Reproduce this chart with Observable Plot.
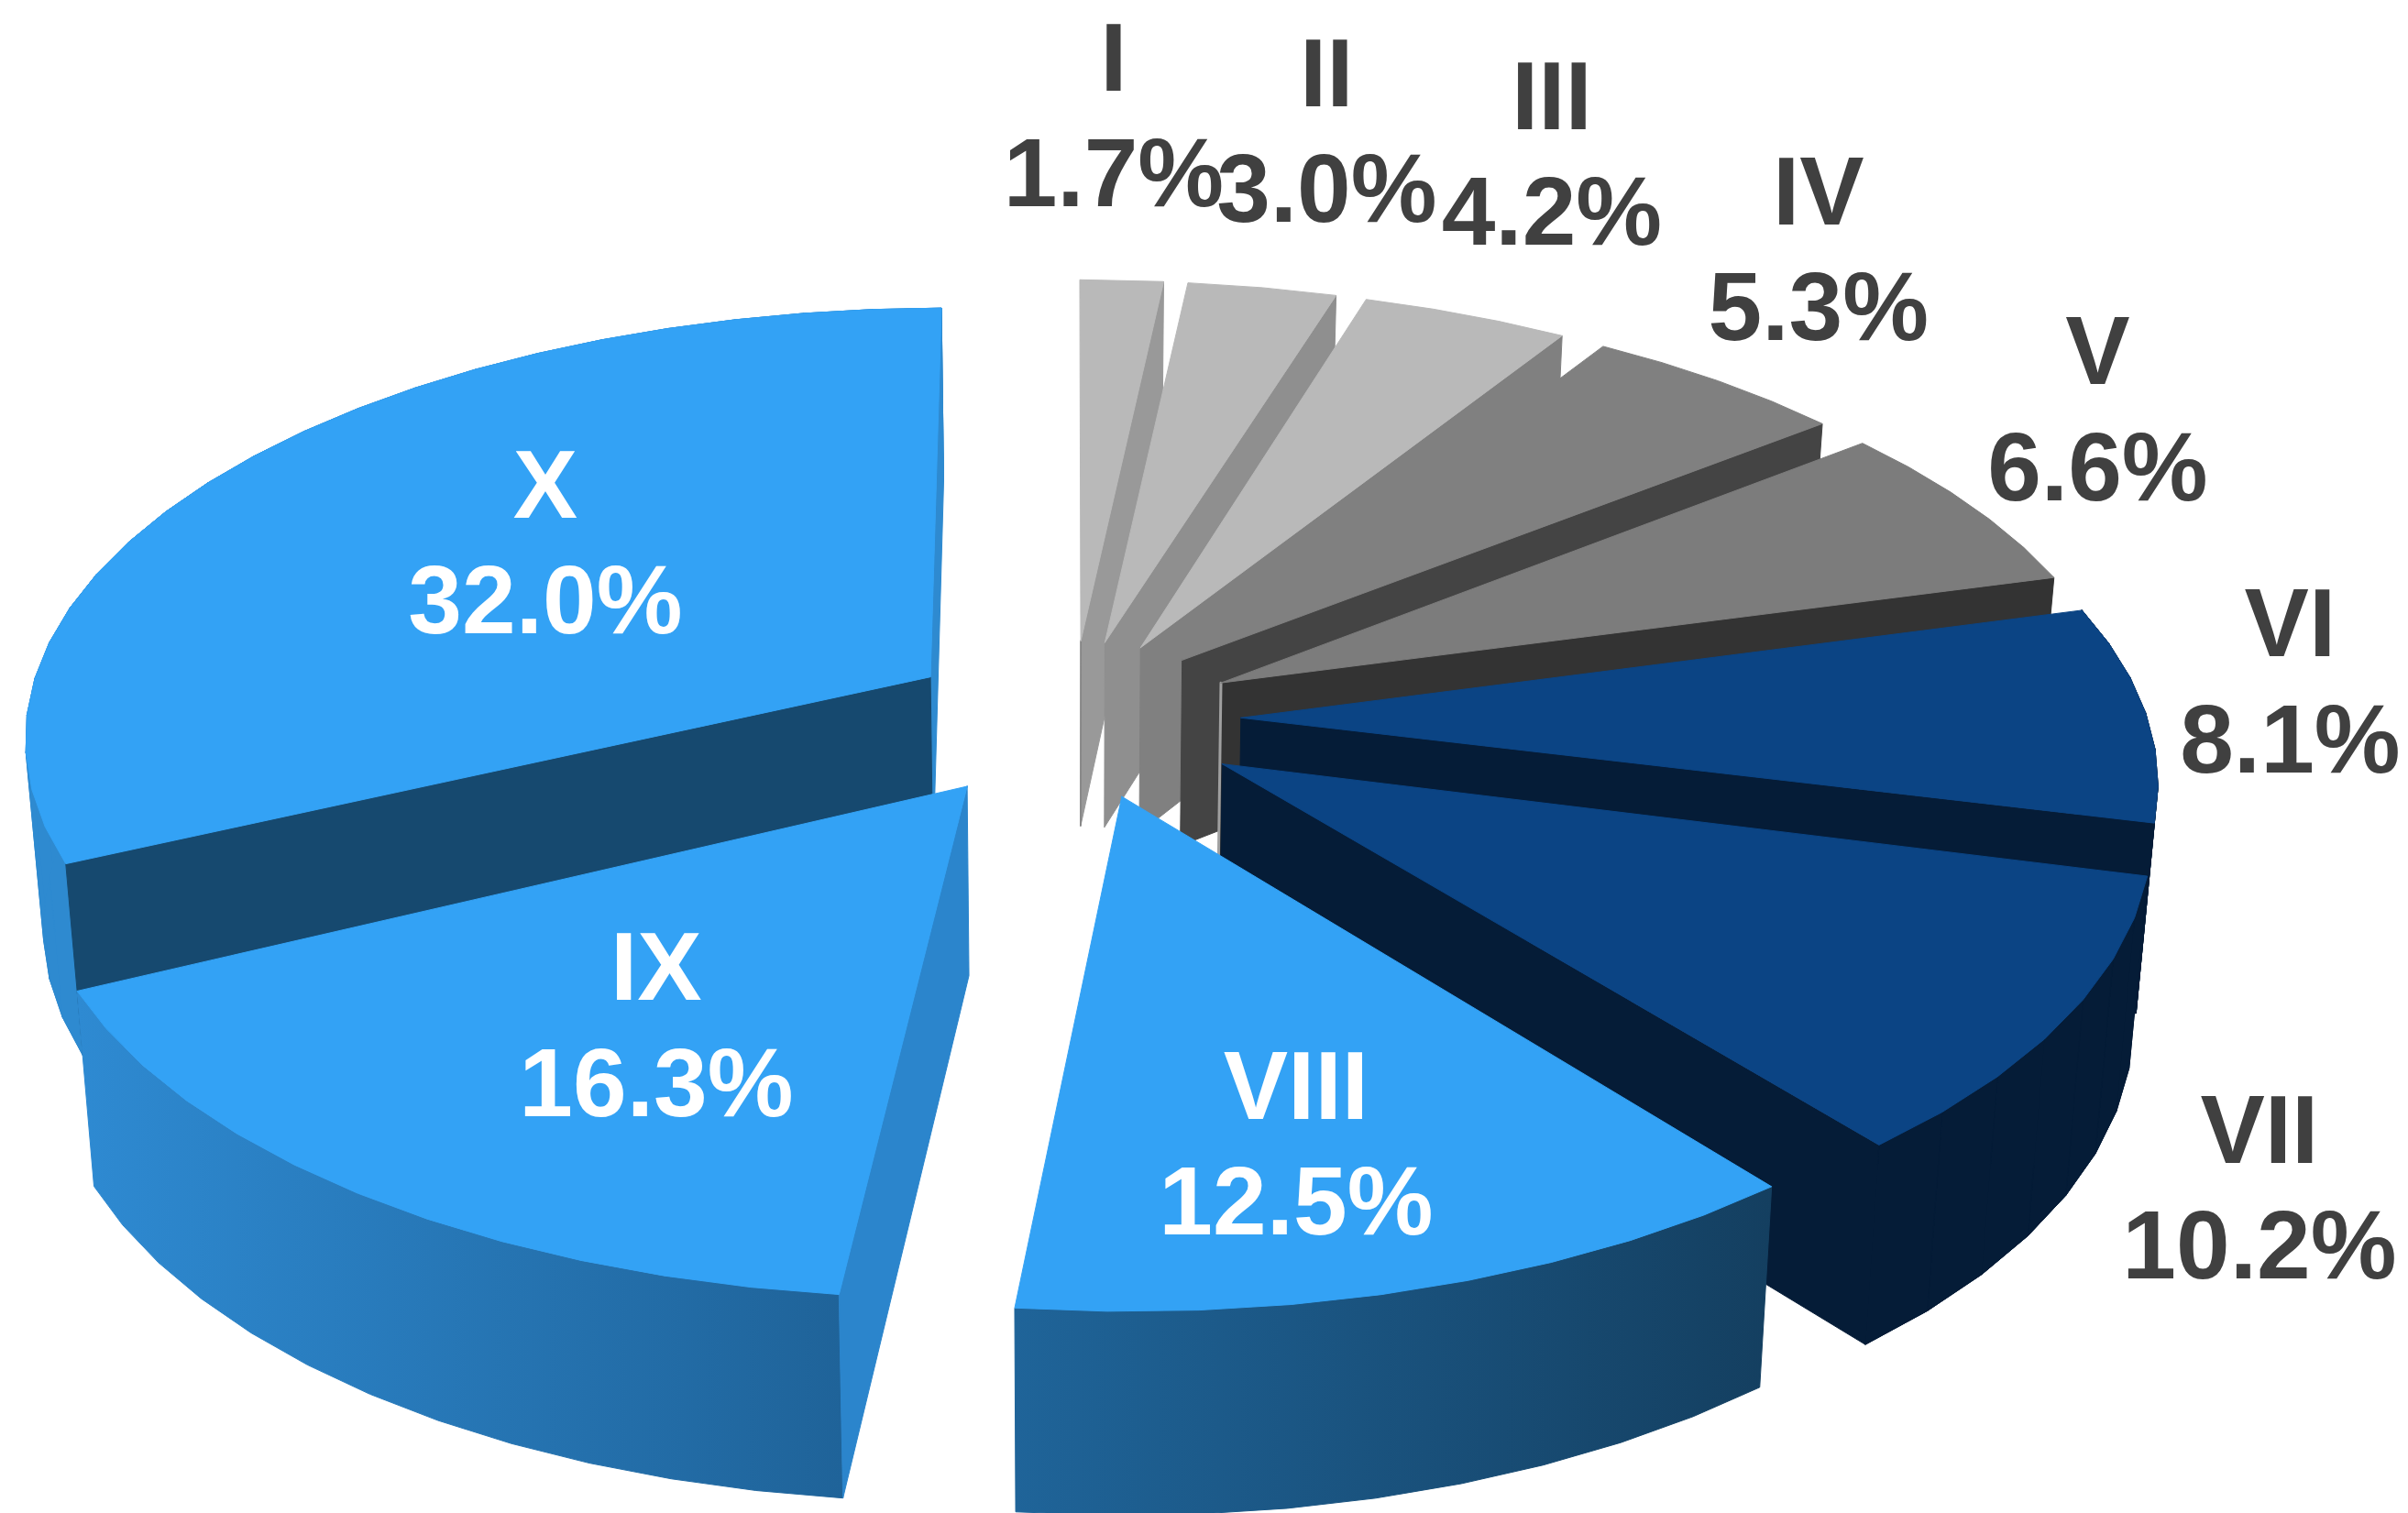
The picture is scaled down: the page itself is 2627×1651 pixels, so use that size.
<!DOCTYPE html>
<html>
<head>
<meta charset="utf-8">
<script src="https://cdn.jsdelivr.net/npm/d3@7"></script>
<script src="https://cdn.jsdelivr.net/npm/@observablehq/plot@0.6"></script>
<style>html,body{margin:0;padding:0;background:#fff}svg{display:block}</style>
</head>
<body>
<div id="chart"></div>
<script>
// Values
const categories = ["I","II","III","IV","V","VI","VII","VIII","IX","X"];
const shares = [1.7,3.0,4.2,5.3,6.6,8.1,10.2,12.5,16.3,32.0];

// Style tables
const topColors   = ["#b9b9b9","#b9b9b9","#b9b9b9","#808080","#7c7c7c","#0b4484","#0b4484","#33a2f5","#33a2f5","#33a2f5"];
const cutColors   = ["#999999","#8f8f8f","#808080","#444444","#333333","#051c37","#051c37","#143f60","#2b85cc","#2e8ad0"];
const outerColors = [null,null,null,null,null,"#051c37","#051c37","url(#wallVIII)","url(#wallIX)","#2e8ad0"];
const labelColors = ["#404040","#404040","#404040","#404040","#404040","#404040","#404040","#ffffff","#ffffff","#ffffff"];
// Label placement: polar reach and turn from each slice's middle
const labelReach = [1.689,1.67,1.68,1.57,1.46,1.35,1.5,0.91,0.778,0.744];
const labelTurn  = [-1.2,0,-2.7,-4.8,-5.7,-3.2,7.6,2.8,-2.5,3.4];
// Small drawing corrections per slice: edge turns in degrees, centre shifts in radii
const startTurn = [0,0.2,0.2,0.4,0.6,0,0.3,0.75,0.3,0.4];
const endTurn   = [0,0.35,0.25,0.6,0,-0.2,0.55,0.4,-0.2,0];
const shiftU    = [0,0,0,0,0,0,0.006,0,-0.006,0];
const shiftV    = [0,0,0,0,0,0,-0.005,0,-0.003,0];

// 3D pie settings
const radius = 0.992, explode = 0.185, perspective = 0.13, labelPerspective = 0.12, tilt = 0.4706;
const depth = 0.205, depthPersp = 0.07, floorShrink = 0.983, stepDeg = 5;
const rad = Math.PI / 180;

function project(u, v, floor, k = perspective) {
  const w = 1 + k * v;
  let x = u / w, y = tilt * v / w;
  if (floor) { x *= floorShrink; y -= depth / (1 + depthPersp * v); }
  return {x, y};
}

let running = 0;
const slices = categories.map((name, i) => {
  const a0 = running * 3.6; running += shares[i]; const a1 = running * 3.6;
  const mid = (a0 + a1) / 2;
  return {
    name, i, a0: a0 + startTurn[i], a1: a1 + endTurn[i], mid,
    ox: explode * Math.sin(mid * rad) + shiftU[i],
    oy: explode * Math.cos(mid * rad) + shiftV[i]
  };
});

function rim(s, floor) {
  const n = Math.max(1, Math.round((s.a1 - s.a0) / stepDeg)), pts = [];
  for (let k = 0; k <= n; k++) {
    const a = (s.a0 + (s.a1 - s.a0) * k / n) * rad;
    pts.push(project(s.ox + radius * Math.sin(a), s.oy + radius * Math.cos(a), floor));
  }
  return pts;
}

function faceMark(points, color) {
  const closed = [...points, points[0]];
  return Plot.line(closed, {x: "x", y: "y", fill: color, stroke: color, strokeWidth: 1, curve: "linear"});
}

function sliceMarks(s) {
  const top = rim(s, false), bot = rim(s, true);
  const c = project(s.ox, s.oy, false), cb = project(s.ox, s.oy, true);
  const last = top.length - 1;
  const marks = [];
  const outer = outerColors[s.i];
  if (outer) {
    marks.push(faceMark([...top, ...bot.slice().reverse()], outer));
    // plain walls also get one quad per rim step, so the silhouette is straight
    if (!outer.startsWith("url")) {
      for (let k = 0; k < last; k++) marks.push(faceMark([top[k], top[k + 1], bot[k + 1], bot[k]], outer));
    }
  }
  if (s.name === "IX") {
    marks.push(faceMark([c, top[0], bot[0], cb], cutColors[s.i]));
  } else if (s.name === "X") {
    marks.push(faceMark([c, top[last], bot[last], cb], cutColors[s.i]));
    marks.push(faceMark([c, top[0], bot[0], cb], "#16496f"));
  } else if (s.name !== "VIII") {
    marks.push(faceMark([c, top[last], bot[last], cb], cutColors[s.i]));
  }
  // thin lit edge at the inner corner of I and V
  if (s.name === "I") marks.push(Plot.line([c, cb], {x: "x", y: "y", stroke: "#808080", strokeWidth: 1.5}));
  if (s.name === "V") marks.push(Plot.line([c, cb], {x: "x", y: "y", stroke: "#a0a0a0", strokeWidth: 3}));
  marks.push(faceMark([c, ...top], topColors[s.i]));
  return marks;
}

const drawOrder = [0,1,2,3,4,5,6,7,9,8];

const labels = slices.map(s => {
  const a = (s.mid + labelTurn[s.i]) * rad, r = labelReach[s.i];
  const p = project(r * Math.sin(a), r * Math.cos(a), false, labelPerspective);
  return {x: p.x, y: p.y, text: `${s.name}\n${shares[s.i].toFixed(1)}%`, color: labelColors[s.i]};
});

function gradients() {
  const defs = d3.create("svg:defs");
  [["wallIX","#2e8ad2","#1f6399"],["wallVIII","#1f6499","#143f60"]].forEach(([id,a,b]) => {
    const g = defs.append("linearGradient").attr("id", id).attr("x1",0).attr("x2",1).attr("y1",0).attr("y2",0);
    g.append("stop").attr("offset","0").attr("stop-color",a);
    g.append("stop").attr("offset","1").attr("stop-color",b);
  });
  return defs.node();
}

const chart = Plot.plot({
  width: 2627, height: 1651, margin: 0,
  style: {background: "#fff", overflow: "hidden"},
  x: {axis: null, domain: [-1.1725, 1.4625], range: [0, 2627]},
  y: {axis: null, domain: [0.786, -0.87], range: [0, 1651]},
  marks: [
    gradients,
    ...drawOrder.flatMap(i => sliceMarks(slices[i])),
    Plot.text(labels, {
      x: "x", y: "y", text: "text", fill: "color", dy: -4,
      fontFamily: "Liberation Sans", fontWeight: 700, fontSize: 105.5, lineHeight: 1.2,
      textAnchor: "middle", lineAnchor: "middle"
    })
  ]
});
document.getElementById("chart").append(chart);
</script>
</body>
</html>
